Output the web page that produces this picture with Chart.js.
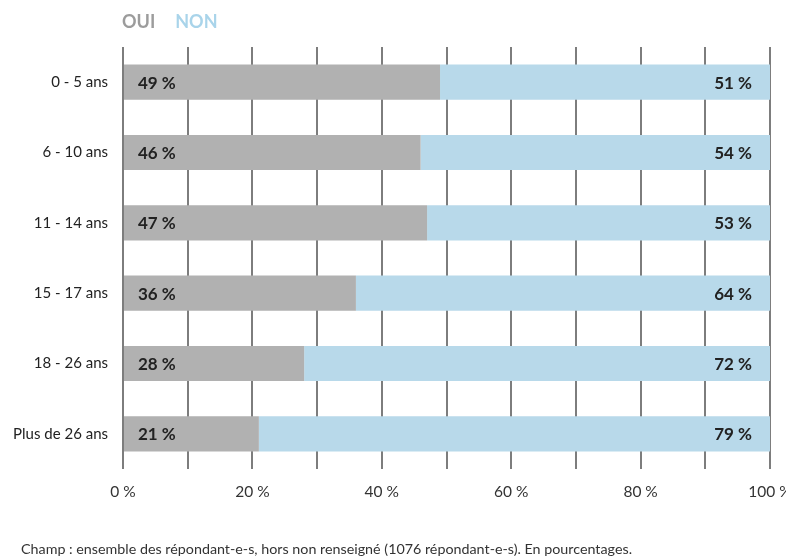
<!DOCTYPE html>
<html>
<head>
<meta charset="utf-8">
<script src="https://cdn.jsdelivr.net/npm/chart.js@4.4.1/dist/chart.umd.min.js"></script>
<style>
  body { margin: 0; background: #fff; }
  #wrap { position: relative; width: 786px; height: 559px; }
  #chart { position: absolute; left: 0; top: 0; }
  .legend { position: absolute; top: 10px; left: 122px; font: bold 18px Lato, sans-serif; }
  .legend span { margin-right: 20px; }
  .note { position: absolute; left: 21px; top: 540px; font: 14.3px Lato, sans-serif; color: #333; white-space: nowrap; }
</style>
</head>
<body>
<div id="wrap">
  <canvas id="chart" width="786" height="559"></canvas>
  <div class="legend"><span style="color:#9c9c9c">OUI</span><span style="color:#a9d4ea">NON</span></div>
  <div class="note">Champ : ensemble des répondant-e-s, hors non renseigné (1076 répondant-e-s). En pourcentages.</div>
</div>
<script>
// Data
const ageGroups = ['0 - 5 ans', '6 - 10 ans', '11 - 14 ans', '15 - 17 ans', '18 - 26 ans', 'Plus de 26 ans'];
const ouiValues = [49, 46, 47, 36, 28, 21];
const nonValues = [51, 54, 53, 64, 72, 79];
const xTicks = [0, 20, 40, 60, 80, 100];

const font = 'Lato, sans-serif';

// Draw the "xx %" labels inside the bars
const barLabels = {
    id: 'barLabels',
    afterDatasetsDraw(chart) {
        const c = chart.ctx;
        c.save();
        c.font = 'bold 17px ' + font;
        c.fillStyle = '#222';
        c.textBaseline = 'middle';
        chart.data.datasets.forEach((ds, i) => {
            chart.getDatasetMeta(i).data.forEach((bar, j) => {
                const txt = ds.data[j] + ' %';
                if (i === 0) {
                    c.textAlign = 'left';
                    c.fillText(txt, bar.base + 14, bar.y + 1);
                } else {
                    c.textAlign = 'right';
                    c.fillText(txt, bar.x - 18, bar.y + 1);
                }
            });
        });
        c.restore();
    }
};

new Chart(document.getElementById('chart').getContext('2d'), {
    type: 'bar',
    data: {
        labels: ageGroups,
        datasets: [
            { label: 'OUI', data: ouiValues, backgroundColor: '#b1b1b1' },
            { label: 'NON', data: nonValues, backgroundColor: '#b8d9ea' }
        ]
    },
    options: {
        indexAxis: 'y',
        responsive: false,
        animation: false,
        layout: { padding: { top: 47, right: 16, bottom: 50, left: 0 } },
        datasets: { bar: { barPercentage: 0.5, categoryPercentage: 1 } },
        plugins: { legend: { display: false }, tooltip: { enabled: false } },
        scales: {
            x: {
                stacked: true,
                min: 0,
                max: 100,
                afterBuildTicks: s => { s.ticks = [0, 10, 20, 30, 40, 50, 60, 70, 80, 90, 100].map(v => ({ value: v })); },
                afterFit: s => { s.height = 40; s.paddingRight = 0; s.paddingLeft = 0; },
                border: { display: false },
                grid: { color: '#7d7d7d', lineWidth: 2, drawTicks: false },
                ticks: {
                    padding: 14,
                    autoSkip: false,
                    maxRotation: 0,
                    color: '#333',
                    font: { family: font, size: 15.5 },
                    callback: v => xTicks.includes(v) ? v + ' %' : ''
                }
            },
            y: {
                stacked: true,
                afterFit: s => { s.width = 123; },
                border: { display: false },
                grid: { display: false, drawTicks: false },
                ticks: { padding: 15, color: '#222', font: { family: font, size: 15 } }
            }
        }
    },
    plugins: [barLabels]
});
</script>
</body>
</html>
